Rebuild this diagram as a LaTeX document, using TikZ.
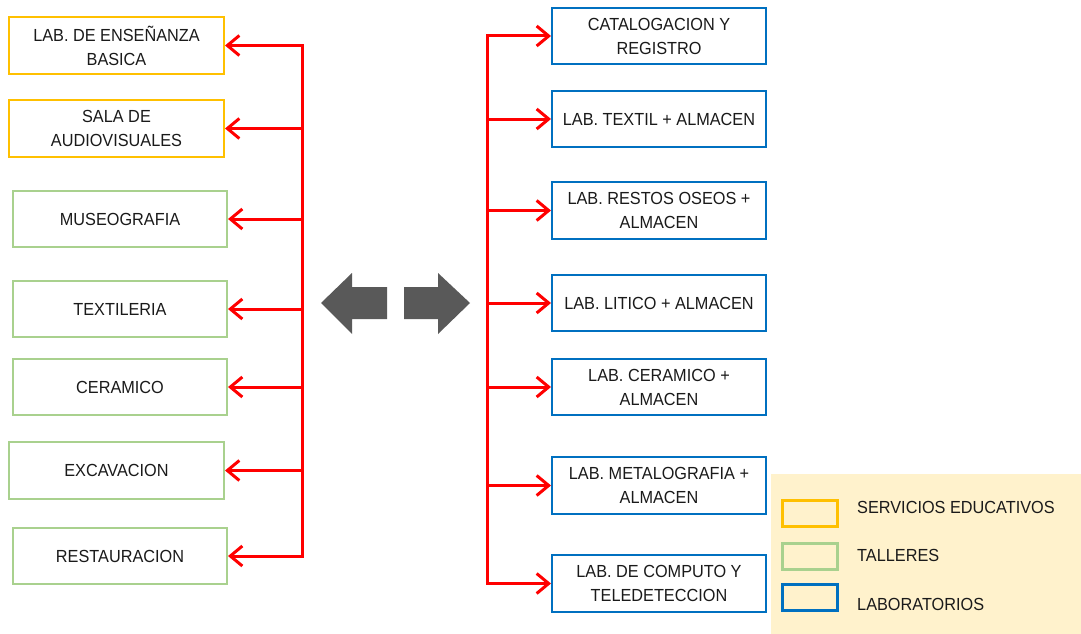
\documentclass[tikz,border=0pt]{standalone}
\usepackage{fontspec}
\setmainfont{Liberation Sans}[FakeStretch=0.93]
\usetikzlibrary{arrows.meta}
\definecolor{cy}{HTML}{FFC000}
\definecolor{cg}{HTML}{A9D18E}
\definecolor{cb}{HTML}{0070C0}
\definecolor{cr}{HTML}{FF0000}
\definecolor{cgray}{HTML}{595959}
\definecolor{cleg}{HTML}{FFF2CC}
\definecolor{ctext}{HTML}{1A1A1A}
\tikzset{
  box/.style={draw, line width=2pt, fill=white, minimum width=214pt, minimum height=56pt, inner sep=2pt, align=center, text=ctext, font=\fontsize{17.5}{24}\selectfont},
  yb/.style={box, draw=cy},
  gb/.style={box, draw=cg},
  bb/.style={box, draw=cb},
  redline/.style={draw=cr, line width=3pt},
  redarr/.style={draw=cr, line width=3pt, -{Straight Barb[length=12pt, width=20pt, line width=3pt]}},
  legbox/.style={draw, line width=3pt, minimum width=55pt, minimum height=26pt, inner sep=0pt},
  legtext/.style={anchor=west, text=ctext, font=\fontsize{17.5}{20}\selectfont, inner sep=0pt},
}
\begin{document}
\begin{tikzpicture}[x=1pt, y=-1pt]
\useasboundingbox (0,0) rectangle (1081,634);
% legend background
\fill[cleg] (771,474) rectangle (1081,634);
% left boxes
\node[yb, minimum width=215pt, minimum height=57pt] (l1) at (116.5,45.5) {LAB. DE ENSEÑANZA\\BASICA};
\node[yb, minimum width=215pt, minimum height=57pt] (l2) at (116.5,128.5) {SALA DE\\AUDIOVISUALES};
\node[gb] (l3) at (120,219) {MUSEOGRAFIA};
\node[gb] (l4) at (120,309) {TEXTILERIA};
\node[gb] (l5) at (120,387) {CERAMICO};
\node[gb, minimum width=215pt, minimum height=57pt] (l6) at (116.5,470.5) {EXCAVACION};
\node[gb] (l7) at (120,556) {RESTAURACION};
% right boxes
\node[bb] (r1) at (659,36) {CATALOGACION Y\\REGISTRO};
\node[bb] (r2) at (659,119) {LAB. TEXTIL + ALMACEN};
\node[bb, minimum height=57pt] (r3) at (659,210.5) {LAB. RESTOS OSEOS +\\ALMACEN};
\node[bb] (r4) at (659,303) {LAB. LITICO + ALMACEN};
\node[bb] (r5) at (659,387) {LAB. CERAMICO +\\ALMACEN};
\node[bb, minimum height=57pt] (r6) at (659,485.5) {LAB. METALOGRAFIA +\\ALMACEN};
\node[bb, minimum height=57pt] (r7) at (659,583.5) {LAB. DE COMPUTO Y\\TELEDETECCION};
% left connectors
\coordinate (lt) at (302,46);
\coordinate (lb) at (302,556);
\draw[redline, line cap=rect] (lt) -- (lb);
\foreach \n in {l1,l2,l3,l4,l5,l6,l7}{
  \draw[redarr] (lt |- \n.east) -- (\n.east);
}
% right connectors
\coordinate (rt) at (487,36);
\coordinate (rb) at (487,583);
\draw[redline, line cap=rect] (rt) -- (rb);
\foreach \n in {r1,r2,r3,r4,r5,r6,r7}{
  \draw[redarr] (rt |- \n.west) -- (\n.west);
}
% block arrows
\fill[cgray] (321,303) -- (352,273) -- (352,287) -- (387,287) -- (387,319) -- (352,319) -- (352,334) -- cycle;
\fill[cgray] (470,303) -- (438,273) -- (438,287) -- (404,287) -- (404,319) -- (438,319) -- (438,334) -- cycle;
% legend
\node[legbox, draw=cy] (k1) at (810,513) {};
\node[legbox, draw=cg] (k2) at (810,556.5) {};
\node[legbox, draw=cb] (k3) at (810,597.5) {};
\node[legtext] (t1) at (857,507) {SERVICIOS EDUCATIVOS};
\node[legtext] (t2) at (857,555) {TALLERES};
\node[legtext] (t3) at (857,604) {LABORATORIOS};
\end{tikzpicture}
\end{document}
